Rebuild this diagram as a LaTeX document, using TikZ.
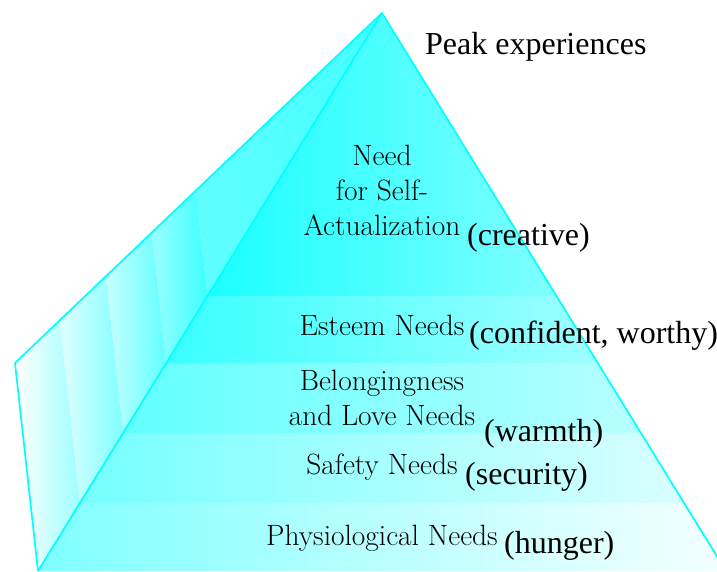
\documentclass[tikz,border=0pt]{standalone}
\usepackage{fontspec}
\newfontfamily\sidefont{Liberation Serif}
\usetikzlibrary{calc,positioning}
\definecolor{aqua}{RGB}{0,255,255}
\tikzset{
  edge/.style={draw=aqua, line width=1.7pt, line join=round},
  need/.style={font=\fontsize{29.4}{35}\selectfont, align=center, anchor=base, inner sep=0pt},
  side/.style={font=\sidefont\fontsize{32}{36}\selectfont, anchor=base west, inner sep=0pt}
}

\begin{document}
\begin{tikzpicture}[x=1pt, y=-1pt]
\clip (0,0) rectangle (717,572);
\fill[white] (0,0) rectangle (717,572);

% --- Corners of the pyramid ---
\coordinate (A) at (382,13);
\coordinate (B) at (15,363);
\coordinate (F) at (38,571);
\coordinate (R) at (726,571);

% cuts between the levels (same height on every edge)
\foreach \t [count=\k] in {0.5072,0.6272,0.7527,0.8781} {
    \coordinate (K\k) at ($(A)!\t!(B)$);
    \coordinate (P\k) at ($(A)!\t!(F)$);
    \coordinate (Q\k) at ($(A)!\t!(R)$);
}
\coordinate (K0) at (A); \coordinate (P0) at (A); \coordinate (Q0) at (A);
\coordinate (K5) at (B); \coordinate (P5) at (F); \coordinate (Q5) at (R);

% --- Left face ---
\foreach \j/\k/\lc/\rc in {0/1/62/74, 1/2/40/76, 2/3/22/62, 3/4/12/50, 4/5/0/38} {
    \shade[left color=aqua!\lc, right color=aqua!\rc] (K\j) -- (P\j) -- (P\k) -- (K\k) -- cycle;
}

% --- Front face ---
\foreach \j/\k/\lc/\rc in {0/1/90/50, 1/2/78/38, 2/3/62/28, 3/4/54/15, 4/5/50/4} {
    \shade[left color=aqua!\lc, right color=aqua!\rc] (P\j) -- (Q\j) -- (Q\k) -- (P\k) -- cycle;
}

% --- Edges ---
\draw[edge] (B) -- (A) -- (R);
\draw[edge] (B) -- (F);
\draw[edge] (A) -- (F);

% --- Levels (base = last line) ---
\node[need] (selfact) at (382,235) {Need\\for Self-\\Actualization};
\node[need] (esteem) at (382,335) {Esteem Needs};
\node[need] (belong) at (382,425) {Belongingness\\and Love Needs};
\node[need] (safety) at (382,474) {Safety Needs};
\node[need] (physio) at (382,545) {Physiological Needs};

% --- Examples ---
\node[side] (peak) at (425,55) {Peak experiences};
\node[side] (creative) at (467,245) {(creative)};
\node[side] (confident) at (469,343) {(confident, worthy)};
\node[side] (warmth) at (484,441) {(warmth)};
\node[side] (security) at (465,484) {(security)};
\node[side] (hunger) at (504,553) {(hunger)};

\end{tikzpicture}
\end{document}
